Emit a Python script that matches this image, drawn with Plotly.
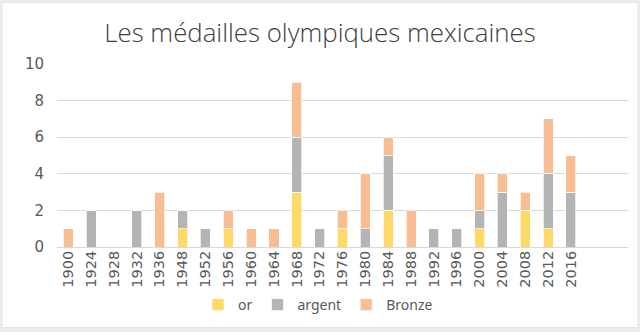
import plotly.graph_objects as go

# Mexican Olympic medals per Games
years = ["1900", "1924", "1928", "1932", "1936", "1948", "1952", "1956", "1960",
         "1964", "1968", "1972", "1976", "1980", "1984", "1988", "1992", "1996",
         "2000", "2004", "2008", "2012", "2016"]
gold = [0, 0, 0, 0, 0, 1, 0, 1, 0, 0, 3, 0, 1, 0, 2, 0, 0, 0, 1, 0, 2, 1, 0]
silver = [0, 2, 0, 2, 0, 1, 1, 0, 0, 0, 3, 1, 0, 1, 3, 0, 1, 1, 1, 3, 0, 3, 3]
bronze = [1, 0, 0, 0, 3, 0, 0, 1, 1, 1, 3, 0, 1, 3, 1, 2, 0, 0, 2, 1, 1, 3, 2]

series = [("or", gold, "#FFD966"), ("argent", silver, "#B4B4B4"), ("Bronze", bronze, "#F7BE93")]

W, H = 640, 332
L, R, T, B = 57, 12, 64, 84
pw, ph = W - L - R, H - T - B

fig = go.Figure()
for name, vals, color in series:
    fig.add_trace(go.Bar(
        x=years, y=vals, name=name,
        marker=dict(color=color, line=dict(color="rgba(255,255,255,0.7)", width=1)),
    ))

def px_x(p):
    return (p - L) / pw

def px_y(p):
    return (H - B - p) / ph

tick_font = "'DejaVu Sans', Verdana, sans-serif"

fig.update_layout(
    width=W, height=H,
    margin=dict(l=L, r=R, t=T, b=B),
    barmode="stack", bargap=0.56,
    paper_bgcolor="#EDEDED", plot_bgcolor="white",
    font=dict(family=tick_font, size=14, color="#595959"),
    title=dict(text="Les médailles olympiques mexicaines", x=0.5, xanchor="center",
               y=1 - 33 / H, yanchor="middle",
               font=dict(family="Open Sans", size=25.8, weight=300, color="#404040")),
    xaxis=dict(type="category", range=[-0.5, 24.5], tickangle=-90, showgrid=False,
               showline=False, ticks="", tickfont=dict(family=tick_font, size=14.5),
               fixedrange=True),
    yaxis=dict(range=[0, 10], dtick=2, gridcolor="#D9D9D9", gridwidth=1, zeroline=True,
               zerolinecolor="#D9D9D9", zerolinewidth=1, showline=False, ticks="",
               ticklabelstandoff=12, tickfont=dict(family=tick_font, size=15),
               fixedrange=True),
    legend=dict(orientation="h", x=px_x(318), xanchor="center", y=px_y(305), yanchor="middle",
                font=dict(family="Noto Sans", size=14, color="#595959"),
                itemwidth=30, traceorder="normal", bgcolor="rgba(0,0,0,0)"),
    showlegend=True,
    shapes=[dict(type="rect", xref="paper", yref="paper", layer="below",
                 x0=px_x(2), x1=px_x(638), y0=px_y(329), y1=px_y(2),
                 fillcolor="white", line=dict(color="#E3E3E3", width=1))],
)

fig.write_html("out.html")
